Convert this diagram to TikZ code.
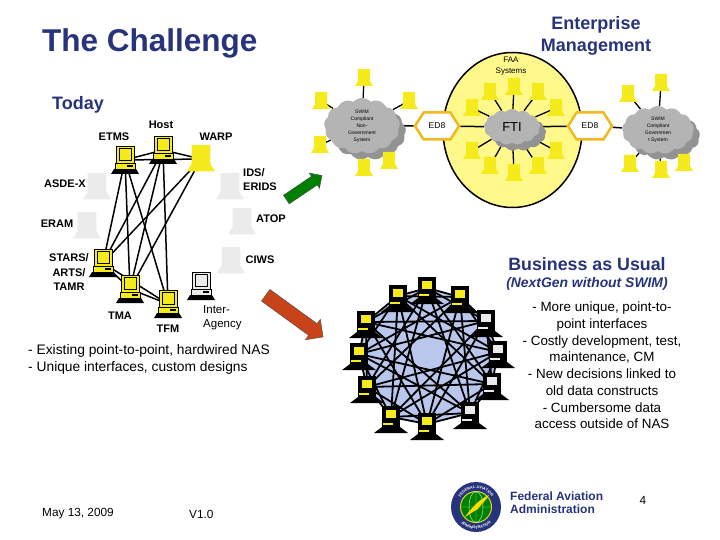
\documentclass[tikz,border=0pt]{standalone}
\usepackage{fontspec}
\setmainfont{Liberation Sans}
\usepackage{xcolor}
\usetikzlibrary{calc, arrows.meta, positioning, backgrounds, shapes.geometric, shapes.symbols, shapes.arrows, shadows, decorations.text}
\definecolor{navy}{HTML}{27337A}
\definecolor{termyellow}{HTML}{F4EA1C}
\definecolor{ghostgrey}{HTML}{EBEBEB}
\definecolor{cloudgrey}{HTML}{B4B4B4}
\definecolor{meshblue}{HTML}{B9C7EC}
\definecolor{edgold}{HTML}{F2B81E}
\definecolor{rust}{HTML}{C8431A}
\tikzset{
  pc/.pic={
    \fill (-11,9) -- (11,9) -- (14,14) -- (-14,14) -- cycle;
    \draw[fill=#1, line width=.8pt] (-9,-14) rectangle (9,3);
    \draw[fill=#1, line width=.5pt] (-6,-12) rectangle (6,0);
    \draw[fill=#1, line width=.8pt] (-10,3) rectangle (10,9);
    \fill (2,5) rectangle (8,7);
  },
  meshpc/.pic={
    \fill (-9,-11) rectangle (9,10);
    \fill (-9,10) -- (9,10) -- (17,16) -- (-17,16) -- cycle;
    \fill[#1] (-5,-7) rectangle (5,1);
    \fill[#1] (-8,6) rectangle (2,8);
  },
  silh/.pic={
    \fill[#1] (-6,-9) -- (6,-9) -- (6,3) -- (9,8) -- (-9,8) -- (-6,3) -- cycle;
  }
}
\begin{document}
\begin{tikzpicture}[
    x=1pt, y=-1pt,
    navytext/.style={text=navy, inner sep=0pt},
    lbl/.style={inner sep=0pt, align=left, font=\fontsize{11}{14.5}\bfseries\selectfont},
    body/.style={inner sep=0pt, align=center, font=\fontsize{13.4}{16.7}\selectfont},
    foot/.style={inner sep=0pt, font=\fontsize{11.8}{13}\selectfont},
    link/.style={line width=1.5pt},
    meshline/.style={line width=1.8pt},
    spoke/.style={line width=1.3pt},
    cloudbox/.style={cloud, cloud puffs=13, cloud puff arc=95, aspect=1.35, inner sep=0pt, fill=cloudgrey, align=center,
      copy shadow={shadow xshift=6pt, shadow yshift=-6pt, fill=gray!85, draw=none}},
    edbox/.style={signal, signal to=east and west, signal pointer angle=115, draw=edgold, line width=2.5pt,
      fill=white, minimum width=44pt, minimum height=27pt, inner sep=0pt, font=\fontsize{8.5}{10}\selectfont},
    blockarrow/.style={single arrow, draw=black!70, line width=.4pt}
  ]
    \useasboundingbox (0,0) rectangle (720,540);

    % titles
    \node[navytext, anchor=west, font=\fontsize{31.5}{34}\bfseries\selectfont] (title) at (42,43) {The Challenge};
    \node[navytext, align=center, font=\fontsize{18}{22}\bfseries\selectfont] (enterprise) at (596,36) {Enterprise\\Management};
    \node[navytext, anchor=west, font=\fontsize{18}{20}\bfseries\selectfont] (today) at (52,105) {Today};

    % Today network
    \foreach \name/\x/\y in {etms/125/160, host/163/150, warp/201/159, stars/103/263, tma/130/289, tfm/168/304, inter/201/286,
        asde/97/187, eram/87/226, ids/230/187, atop/242/222, ciws/231/261}
      \coordinate (\name) at (\x,\y);
    \foreach \a/\b in {etms/host, etms/warp, host/warp, etms/stars, etms/tma, etms/tfm, host/stars, host/tma, host/tfm,
        warp/stars, warp/tma, stars/tma, stars/tfm, tma/tfm}
      \draw[link] (\a) -- (\b);
    \foreach \name in {etms, host, stars, tma, tfm}
      \pic at (\name) {pc=termyellow};
    \pic at (inter) {pc=ghostgrey};
    \pic[scale=1.55] at (warp) {silh=termyellow};
    \foreach \name in {asde, eram, ids, atop, ciws}
      \pic[scale=1.55] at (\name) {silh=ghostgrey};

    \node[lbl] (etmslabel) at (114,137) {ETMS};
    \node[lbl] (hostlabel) at (161,125) {Host};
    \node[lbl] (warplabel) at (216,137) {WARP};
    \node[lbl] (asdelabel) at (65,184) {ASDE-X};
    \node[lbl] (eramlabel) at (57,224) {ERAM};
    \node[lbl, anchor=west, align=left] (idslabel) at (243,179.5) {IDS/\\ERIDS};
    \node[lbl] (atoplabel) at (271,219) {ATOP};
    \node[lbl] (ciwslabel) at (260,260) {CIWS};
    \node[lbl, align=center] (starslabel) at (69,272.5) {STARS/\\ARTS/\\TAMR};
    \node[lbl] (tmalabel) at (120,316) {TMA};
    \node[lbl] (tfmlabel) at (168,329) {TFM};
    \node[lbl, anchor=west, font=\fontsize{11.5}{14.5}\selectfont] (interlabel) at (203,317.5) {Inter-\\Agency};
    \node[body, anchor=west, align=left, font=\fontsize{13.8}{17}\selectfont] (nastext) at (28,359.5) {- Existing point-to-point, hardwired NAS\\- Unique interfaces, custom designs};

    % block arrows
    \node[blockarrow, fill=green!50!black, rotate=34, inner sep=5pt, minimum height=43pt, single arrow head extend=4pt] (greenarrow) at (302,189) {};
    \node[blockarrow, fill=rust, rotate=-36, inner sep=7pt, minimum height=71pt, single arrow head extend=5.5pt] (redarrow) at (291.5,314) {};

    % Enterprise Management
    \node[inner sep=0pt, align=center, font=\fontsize{8}{11}\selectfont] (faalabel) at (511,66) {FAA\\Systems};

    \foreach \name/\x/\y in {a1/364/78, a2/321/101, a3/409/101, a4/320/145, a5/364/168, a6/389/161,
        b1/514/87, b2/490/92, b3/538/92, b4/472/108, b5/556/108, b6/472/151, b7/556/151, b8/490/166, b9/538/166, b10/514/173,
        c1/661/83, c2/628/94, c3/630/164, c4/661/170, c5/684/163}
      \coordinate (\name) at (\x,\y);

    \node[cloudbox, minimum width=76pt, minimum height=56pt, font=\fontsize{5}{7}\selectfont] (swimleft) at (362,126) {SWIM\\Compliant\\Non-\\Government\\System};
    \node[cloudbox, minimum width=56pt, minimum height=36pt, font=\fontsize{13}{15}\selectfont] (fti) at (512,127) {FTI};
    \node[cloudbox, minimum width=72pt, minimum height=48pt, font=\fontsize{5}{7}\selectfont] (swimright) at (658,130) {SWIM\\Compliant\\Governmen\\t System};
    \node[edbox] (edleft) at (437,126) {ED8};
    \node[edbox] (edright) at (590,126) {ED8};

    \begin{scope}[on background layer]
      \node[ellipse, draw, line width=1.5pt, fill=yellow!45, minimum width=139pt, minimum height=155pt, inner sep=0pt] (faa) at (512.5,130) {};
      \foreach \i in {1,...,6} \draw[spoke] (swimleft) -- (a\i);
      \foreach \i in {1,...,10} \draw[spoke] (fti) -- (b\i);
      \foreach \i in {1,...,5} \draw[spoke] (swimright) -- (c\i);
      \draw[link] (swimleft) -- (edleft);
      \draw[link] (edleft) -- (fti);
      \draw[link] (fti) -- (edright);
      \draw[link] (edright) -- (swimright);
    \end{scope}

    \foreach \i in {1,...,6} \pic at (a\i) {silh=termyellow};
    \foreach \i in {1,...,10} \pic at (b\i) {silh=termyellow};
    \foreach \i in {1,...,5} \pic at (c\i) {silh=termyellow};

    % Business as Usual
    \node[navytext, font=\fontsize{17.8}{21}\bfseries\selectfont] (usual) at (587,264) {Business as Usual};
    \node[navytext, font=\fontsize{13.9}{15}\bfseries\itshape\selectfont] (nextgen) at (587,284) {(NextGen without SWIM)};

    \foreach \name/\x/\y in {m1/427/288, m2/460/297, m3/486/321, m4/498/352, m5/492/384, m6/470/413,
        m7/427/424, m8/391/417, m9/367/387, m10/359/354, m11/366/322, m12/398/296}
      \coordinate (\name) at (\x,\y);
    \fill[meshblue] (m1) -- (m2) -- (m3) -- (m4) -- (m5) -- (m6) -- (m7) -- (m8) -- (m9) -- (m10) -- (m11) -- (m12) -- cycle;
    \foreach \s in {1,2,4,5}
      \foreach \i in {1,...,12} {
        \pgfmathtruncatemacro{\j}{mod(\i+\s-1,12)+1}
        \draw[meshline] (m\i) -- (m\j);
      }
    \foreach \i in {1,2,7,8,9,10,11,12}
      \pic at (m\i) {meshpc=termyellow};
    \foreach \i in {3,4,5,6}
      \pic at (m\i) {meshpc=ghostgrey};

    \node[body] (usualtext) at (602,365.5) {- More unique, point-to-\\point interfaces\\- Costly development, test,\\maintenance, CM\\- New decisions linked to\\old data constructs\\- Cumbersome data\\access outside of NAS};

    % footer
    \node[foot, anchor=west] (datelabel) at (42,514) {May 13, 2009};
    \node[foot, anchor=west] (versionlabel) at (189,514) {V1.0};
    \node[navytext, anchor=west, align=left, font=\fontsize{12}{13}\bfseries\selectfont] (faaname) at (510,502.5) {Federal Aviation\\Administration};
    \node[foot] (pagenum) at (643,500) {4};

    % logo
    \fill[navy] (476,507) circle (25);
    \path[decorate, decoration={text along path, text color=white, text align=center, text format delimiters={|}{|},
      text={|\fontsize{3.8}{5}\bfseries\selectfont|FEDERAL AVIATION}}] (457.5,507) arc (180:360:18.5);
    \path[decorate, decoration={text along path, text color=white, text align=center, text format delimiters={|}{|},
      text={|\fontsize{3.8}{5}\bfseries\selectfont|ADMINISTRATION}}] (454,507) arc (180:0:22);
    \draw[fill=green!50!black, draw=yellow!85!black, line width=1pt] (476,507) circle (15.5);
    \draw[white!75!green, line width=.4pt] (476,491.5) -- (476,522.5) (460.5,507) -- (491.5,507)
      (476,491.5) arc (270:90:7 and 15.5) (476,491.5) arc (270:450:7 and 15.5);
    \fill[yellow!80!orange] (465,517) .. controls (471,509) and (478,500) .. (489,495)
      .. controls (485,502) and (480,505) .. (478,509) .. controls (474,511) and (470,514) .. (465,517) -- cycle;
\end{tikzpicture}
\end{document}
